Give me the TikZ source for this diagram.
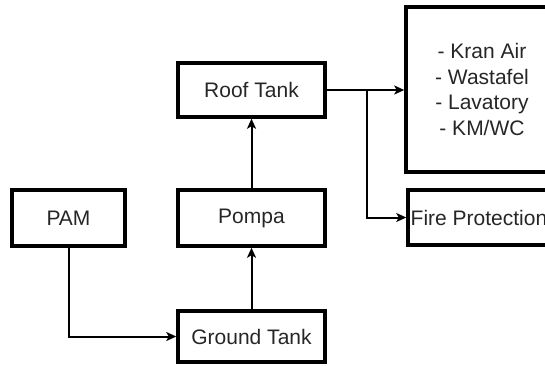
\documentclass[tikz,border=0pt]{standalone}
\usepackage{fontspec}
\setmainfont{Liberation Sans}
\usetikzlibrary{arrows.meta}
\definecolor{txt}{HTML}{262626}
\tikzset{
  box/.style={draw=black, line width=3.5pt, inner sep=0pt, text=txt,
    font=\fontsize{21}{25.5}\selectfont, align=center},
  arr/.style={draw=black, line width=2pt,
    -{Stealth[length=10pt,width=9pt,inset=2.5pt]}}
}
\begin{document}
\begin{tikzpicture}[x=1pt,y=-1pt]
\useasboundingbox (0,0) rectangle (545,365);
\clip (0,0) rectangle (545,365);
\node[box, minimum width=113pt, minimum height=56pt] (pam) at (68.5,218) {PAM};
\node[box, minimum width=147pt, minimum height=56pt] (pompa) at (251.5,218) {Pompa};
\node[box, minimum width=147pt, minimum height=54pt] (roof) at (251.5,90) {Roof Tank};
\node[box, minimum width=147pt, minimum height=51pt] (ground) at (251.5,336.5) {Ground Tank};
\node[box, minimum width=152pt, minimum height=165pt] (list) at (482,89.5) {- Kran Air\\- Wastafel\\- Lavatory\\- KM/WC};
\node[box, minimum width=142pt, minimum height=55pt] (fire) at (479,217.5) {Fire Protection};
\coordinate (br) at (367,90);
\draw[arr] (ground) -- (pompa);
\draw[arr] (pompa) -- (roof);
\draw[arr] (pam.south) |- (ground.west);
\draw[arr] (roof.east) -- (roof.east -| list.west);
\draw[arr] (br) |- (fire.west);
\end{tikzpicture}
\end{document}
